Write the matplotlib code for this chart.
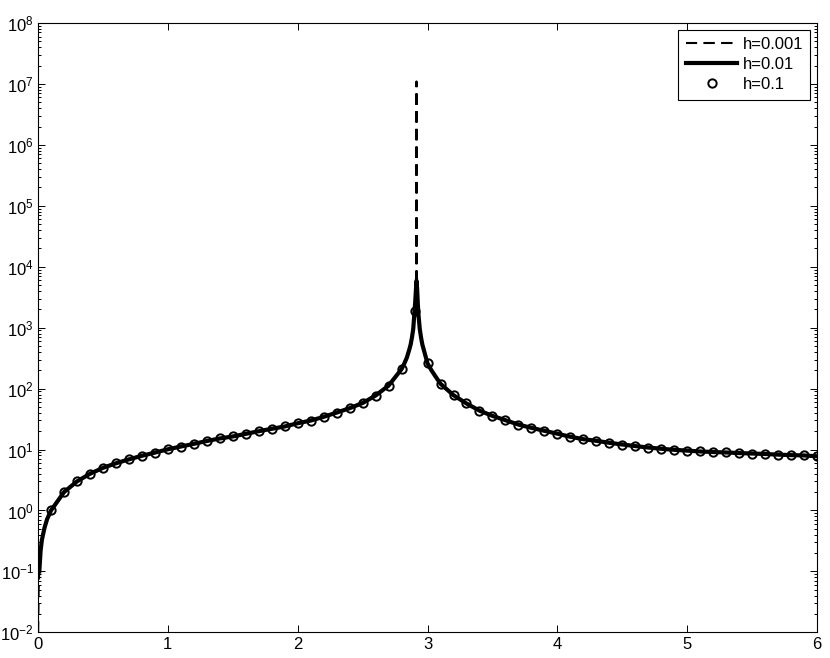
import numpy as np
import matplotlib
matplotlib.use('Agg')
import matplotlib.pyplot as plt
from matplotlib.ticker import LogLocator, NullFormatter, MultipleLocator

matplotlib.rc('font', family='Liberation Sans', size=12)
matplotlib.rcParams['mathtext.default'] = 'regular'

# h=0.1 samples (circles)
x_coarse = [0.1, 0.2, 0.3, 0.4, 0.5, 0.6, 0.7, 0.8, 0.9, 1.0,
            1.1, 1.2, 1.3, 1.4, 1.5, 1.6, 1.7, 1.8, 1.9, 2.0,
            2.1, 2.2, 2.3, 2.4, 2.5, 2.6, 2.7, 2.8, 2.9, 3.0,
            3.1, 3.2, 3.3, 3.4, 3.5, 3.6, 3.7, 3.8, 3.9, 4.0,
            4.1, 4.2, 4.3, 4.4, 4.5, 4.6, 4.7, 4.8, 4.9, 5.0,
            5.1, 5.2, 5.3, 5.4, 5.5, 5.6, 5.7, 5.8, 5.9, 6.0]
y_coarse = [1.0, 2.0, 3.0, 4.0, 5.0, 5.95, 6.9, 7.9, 8.9, 10.1,
            11.2, 12.4, 13.8, 15.2, 16.4, 18.1, 20.0, 21.9, 23.9, 27.0,
            29.9, 34.4, 40.4, 47.7, 58.0, 77.0, 112.0, 209.0, 1870.0, 259.0,
            120.0, 78.0, 57.0, 43.5, 35.7, 30.3, 25.7, 22.7, 20.3, 18.2,
            16.2, 14.8, 13.9, 12.9, 12.1, 11.4, 10.8, 10.3, 9.9, 9.6,
            9.3, 9.1, 8.95, 8.75, 8.6, 8.45, 8.25, 8.1, 8.0, 7.75]

# extra points of the h=0.01 curve (near zero and around the peak)
x_mid_extra = [0.01, 0.02, 0.03, 0.05, 0.07,
               2.82, 2.84, 2.86, 2.87, 2.88, 2.89, 2.905, 2.91, 2.915,
               2.92, 2.925, 2.93, 2.94, 2.95, 2.96, 2.98, 3.03, 3.06]
y_mid_extra = [0.1, 0.22, 0.33, 0.52, 0.72,
               255, 320, 440, 530, 690, 960, 2600, 4000, 5900,
               4300, 2500, 1650, 960, 690, 530, 370, 200, 160]

# extra points of the h=0.001 curve
x_fine_extra = [0.001, 0.005, 2.9149, 2.915, 2.9151]
y_fine_extra = [0.01, 0.05, 24000, 1.1e7, 24000]

x_mid = np.array(x_coarse + x_mid_extra)
y_mid = np.array(y_coarse + y_mid_extra)
o = np.argsort(x_mid)
x_mid, y_mid = x_mid[o], y_mid[o]

keep = np.abs(x_mid - 2.915) > 0.0005
x_fine = np.concatenate([x_mid[keep], x_fine_extra])
y_fine = np.concatenate([y_mid[keep], y_fine_extra])
o = np.argsort(x_fine)
x_fine, y_fine = x_fine[o], y_fine[o]

fig = plt.figure(figsize=(8.3, 6.58), dpi=100)
ax = fig.add_axes([0.0458, 0.039, 0.9386, 0.926])
ax.set_yscale('log')
ax.set_xlim(0, 6)
ax.set_ylim(1e-2, 1e8)

# dash phase so the up and down strokes of the spike line up
lw_d = 1.5
on, off = 5.5, 3.0
pts = ax.transData.transform(np.column_stack([x_fine, y_fine]))
ipk = int(np.argmax(y_fine))
L_pt = np.hypot(*np.diff(pts[:ipk + 1], axis=0).T).sum() * 72 / fig.dpi
offset = (on / 2 - L_pt / lw_d) % (on + off)

ax.plot(x_fine, y_fine, color='k', lw=lw_d, linestyle=(offset, (on, off)),
        label='h=0.001', zorder=2)
ax.plot(x_mid, y_mid, 'k-', lw=3, label='h=0.01', zorder=3)
ax.plot(x_coarse, y_coarse, 'o', mfc='none', mec='k', ms=6, mew=1.4,
        label='h=0.1', zorder=4)

ax.xaxis.set_major_locator(MultipleLocator(1))
ax.yaxis.set_major_locator(LogLocator(base=10, numticks=20))
ax.yaxis.set_minor_locator(LogLocator(base=10, subs=np.arange(2, 10), numticks=20))
ax.yaxis.set_minor_formatter(NullFormatter())
ax.tick_params(which='both', direction='in', top=True, right=True, width=0.7)
ax.tick_params(which='major', length=5)
ax.tick_params(which='minor', length=2.5)
ax.tick_params(axis='x', pad=3)
ax.tick_params(axis='y', pad=3)
for s in ax.spines.values():
    s.set_linewidth(0.8)

leg = ax.legend(loc='upper right', fontsize=12, fancybox=False, edgecolor='k',
                framealpha=1, handlelength=3.1, handletextpad=0.3,
                labelspacing=0.3, borderpad=0.45, borderaxespad=0.4)
leg.get_frame().set_linewidth(0.8)

fig.savefig('out.png', dpi=100)
